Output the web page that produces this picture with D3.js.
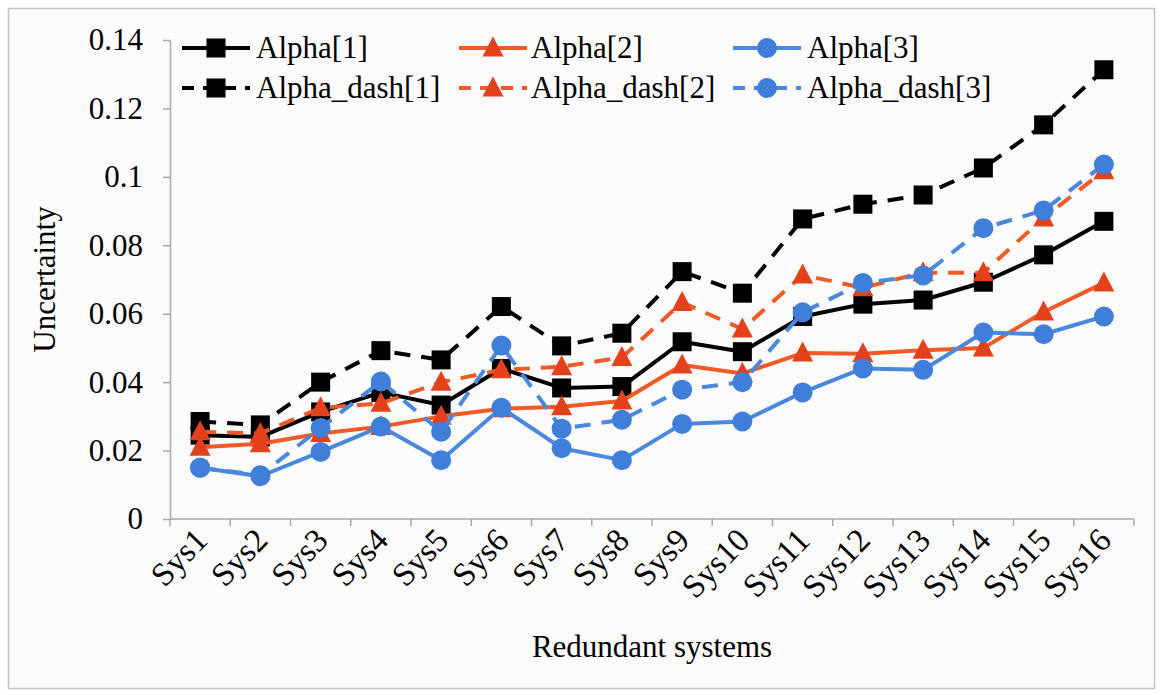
<!DOCTYPE html>
<html>
<head>
<meta charset="utf-8">
<script src="https://cdn.jsdelivr.net/npm/d3@7/dist/d3.min.js"></script>
<style>
  html, body { margin: 0; padding: 0; background: #ffffff; }
  svg { display: block; }
  text { font-family: "Liberation Serif", "Times New Roman", serif; fill: #000; }
</style>
</head>
<body>
<svg id="chart" width="1162" height="695"></svg>
<script>
// Uncertainty of the redundant systems, per Alpha index
const categories = ["Sys1","Sys2","Sys3","Sys4","Sys5","Sys6","Sys7","Sys8",
                    "Sys9","Sys10","Sys11","Sys12","Sys13","Sys14","Sys15","Sys16"];

const alpha1 = [0.0245, 0.0240, 0.0313, 0.0370, 0.0333, 0.0440, 0.0383, 0.0387,
                0.0518, 0.0489, 0.0592, 0.0628, 0.0640, 0.0692, 0.0772, 0.0870];
const alpha2 = [0.0210, 0.0220, 0.0250, 0.0270, 0.0300, 0.0322, 0.0328, 0.0345,
                0.0450, 0.0425, 0.0485, 0.0483, 0.0493, 0.0500, 0.0605, 0.0690];
const alpha3 = [0.0150, 0.0125, 0.0196, 0.0270, 0.0172, 0.0325, 0.0207, 0.0172,
                0.0278, 0.0285, 0.0370, 0.0440, 0.0436, 0.0545, 0.0540, 0.0592];
const alphaDash1 = [0.0285, 0.0275, 0.0400, 0.0492, 0.0465, 0.0621, 0.0506, 0.0543,
                    0.0723, 0.0660, 0.0877, 0.0920, 0.0947, 0.1026, 0.1152, 0.1313];
const alphaDash2 = [0.0255, 0.0250, 0.0325, 0.0338, 0.0400, 0.0436, 0.0445, 0.0472,
                    0.0633, 0.0555, 0.0713, 0.0676, 0.0720, 0.0720, 0.0880, 0.1018];
const alphaDash3 = [0.0150, 0.0128, 0.0266, 0.0402, 0.0255, 0.0507, 0.0264, 0.0290,
                    0.0378, 0.0400, 0.0604, 0.0690, 0.0712, 0.0850, 0.0902, 0.1036];

const seriesNames = ["Alpha[1]", "Alpha[2]", "Alpha[3]",
                     "Alpha_dash[1]", "Alpha_dash[2]", "Alpha_dash[3]"];
const yTickValues = [0, 0.02, 0.04, 0.06, 0.08, 0.1, 0.12, 0.14];
const yTickLabels = ["0", "0.02", "0.04", "0.06", "0.08", "0.1", "0.12", "0.14"];
const xTitle = "Redundant systems";
const yTitle = "Uncertainty";

// Styling per series: colour, marker shape, dashed or not
const styles = [
  { line: "#000000", fill: "#000000", shape: "square",   dashed: false },
  { line: "#EF5A26", fill: "#E3401C", shape: "triangle", dashed: false },
  { line: "#4A88DE", fill: "#3F7FDA", shape: "circle",   dashed: false },
  { line: "#000000", fill: "#000000", shape: "square",   dashed: true },
  { line: "#EF5A26", fill: "#E3401C", shape: "triangle", dashed: true },
  { line: "#4A88DE", fill: "#3F7FDA", shape: "circle",   dashed: true }
];
const seriesValues = [alpha1, alpha2, alpha3, alphaDash1, alphaDash2, alphaDash3];

const svg = d3.select("#chart");
const W = 1162, H = 695;
const FONT = 31;

// background and outer frame
svg.append("rect").attr("x", 0).attr("y", 0).attr("width", W).attr("height", H)
  .attr("fill", "#ffffff");
svg.append("rect").attr("x", 8.5).attr("y", 8.5).attr("width", 1146).attr("height", 680)
  .attr("fill", "#fbfbfc").attr("stroke", "#c4c4c4").attr("stroke-width", 1.5);

const plot = { left: 170, right: 1134, top: 40, bottom: 519 };

const x = d3.scaleBand().domain(categories).range([plot.left, plot.right]);
const y = d3.scaleLinear().domain([0, 0.14]).range([plot.bottom, plot.top]);
const cx = c => x(c) + x.bandwidth() / 2;

const axisColor = "#a9a9a9";

// y axis
const yAxis = d3.axisLeft(y)
  .tickValues(yTickValues)
  .tickFormat((d, i) => yTickLabels[i])
  .tickSizeInner(7).tickSizeOuter(0).tickPadding(20);
const gy = svg.append("g").attr("transform", `translate(${plot.left},0)`).call(yAxis);
gy.attr("font-family", null);
gy.select(".domain").attr("stroke", axisColor).attr("stroke-width", 1.5);
gy.selectAll(".tick line").attr("stroke", axisColor).attr("stroke-width", 1.5);
gy.selectAll(".tick text")
  .attr("font-size", FONT)
  .attr("fill", "#000");

// x axis line and boundary ticks
const gx = svg.append("g");
gx.append("line")
  .attr("x1", plot.left).attr("x2", plot.right)
  .attr("y1", plot.bottom).attr("y2", plot.bottom)
  .attr("stroke", axisColor).attr("stroke-width", 1.5);
const boundaries = categories.map(c => x(c)).concat([x.range()[1]]);
gx.selectAll("line.xt").data(boundaries).join("line")
  .attr("class", "xt")
  .attr("x1", d => d).attr("x2", d => d)
  .attr("y1", plot.bottom).attr("y2", plot.bottom + 7)
  .attr("stroke", axisColor).attr("stroke-width", 1.5);
gx.selectAll("text.xl").data(categories).join("text")
  .attr("class", "xl")
  .attr("font-size", 33)
  .attr("text-anchor", "end")
  .attr("transform", d => `translate(${cx(d) + 9},${plot.bottom + 23}) rotate(-46)`)
  .text(d => d);

// axis titles
svg.append("text")
  .attr("x", (plot.left + plot.right) / 2).attr("y", 657)
  .attr("text-anchor", "middle").attr("font-size", FONT)
  .text(xTitle);
svg.append("text")
  .attr("transform", `translate(55,${(plot.top + plot.bottom) / 2}) rotate(-90)`)
  .attr("text-anchor", "middle").attr("font-size", FONT)
  .text(yTitle);

// marker drawing helper
function drawMarker(g, shape, px, py, fill) {
  if (shape === "square") {
    g.append("rect").attr("x", px - 9.5).attr("y", py - 9.5)
      .attr("width", 19).attr("height", 19).attr("fill", fill);
  } else if (shape === "triangle") {
    g.append("path")
      .attr("d", `M${px},${py - 11.5} L${px + 10.5},${py + 8.5} L${px - 10.5},${py + 8.5} Z`)
      .attr("fill", fill);
  } else {
    g.append("circle").attr("cx", px).attr("cy", py).attr("r", 10).attr("fill", fill);
  }
}

const line = d3.line().x(d => cx(d.c)).y(d => y(d.v));

// series, each line followed by its markers
seriesValues.forEach((vals, si) => {
  const st = styles[si];
  const pts = categories.map((c, i) => ({ c, v: vals[i] }));
  const g = svg.append("g");
  g.append("path").datum(pts)
    .attr("d", line)
    .attr("fill", "none")
    .attr("stroke", st.line)
    .attr("stroke-width", 4)
    .attr("stroke-linejoin", "round")
    .attr("stroke-dasharray", st.dashed ? "16,11" : null);
  pts.forEach(p => drawMarker(g, st.shape, cx(p.c), y(p.v), st.fill));
});

// legend: two rows of three
const legCols = [{ sx: 182, tx: 256 }, { sx: 459, tx: 531 }, { sx: 733, tx: 807 }];
const legRows = [48, 88];
seriesNames.forEach((name, i) => {
  const col = legCols[i % 3], rowY = legRows[Math.floor(i / 3)];
  const st = styles[i];
  const g = svg.append("g");
  g.append("line")
    .attr("x1", col.sx).attr("x2", col.sx + 68)
    .attr("y1", rowY).attr("y2", rowY)
    .attr("stroke", st.line).attr("stroke-width", 4)
    .attr("stroke-dasharray", st.dashed ? "12,9" : null);
  drawMarker(g, st.shape, col.sx + 34, rowY, st.fill);
  g.append("text")
    .attr("x", col.tx).attr("y", rowY + 10)
    .attr("font-size", FONT)
    .text(name);
});
</script>
</body>
</html>
